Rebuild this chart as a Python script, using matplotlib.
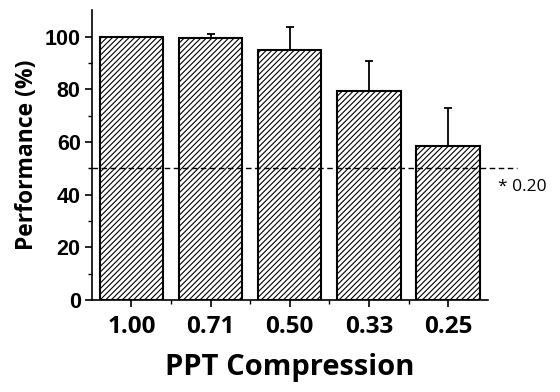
import matplotlib.pyplot as plt
import numpy as np

# data
labels = ["1.00", "0.71", "0.50", "0.33", "0.25"]
performance = [100.0, 99.5, 95.0, 79.3, 58.6]
errors = [0.0, 1.5, 8.8, 11.3, 14.2]
chance = 50

plt.rcParams['hatch.linewidth'] = 0.8

fig = plt.figure(figsize=(5.6, 3.92), dpi=100)
ax = fig.add_axes([0.164, 0.235, 0.707, 0.739])

x = np.arange(len(labels))
ax.bar(x, performance, width=0.8, color='white', edgecolor='black',
       linewidth=1.5, hatch='//////', zorder=2)
ax.errorbar(x, performance, yerr=[np.zeros(len(errors)), errors], fmt='none',
            ecolor='black', elinewidth=1.3, capsize=3, capthick=1.3, zorder=3)

# chance line runs past the plot area
ax.plot([-0.5, 4.87], [chance, chance], ls='--', color='black', lw=1,
        dashes=(4, 2.5), clip_on=False, zorder=4)
ax.text(4.63, 43, "* 0.20", fontsize=12.5, family='Open Sans',
        ha='left', va='center', clip_on=False)

ax.set_xlim(-0.5, 4.5)
ax.set_ylim(0, 110)
ax.set_yticks(range(0, 101, 20))
ax.set_yticks(range(0, 101, 10), minor=True)
ax.set_xticks(x)
ax.set_xticks(x[:-1] + 0.5, minor=True)
ax.set_xticklabels(labels, fontsize=17.5, fontweight='bold', family='Open Sans')
for t in ax.get_yticklabels():
    t.set_fontsize(15.5)
    t.set_fontweight('bold')
    t.set_family('Liberation Sans')

ax.spines['top'].set_visible(False)
ax.spines['right'].set_visible(False)
ax.spines['left'].set_linewidth(1.2)
ax.spines['bottom'].set_linewidth(1.2)
ax.tick_params(axis='both', which='major', length=5, width=1.2, direction='out')
ax.tick_params(axis='both', which='minor', length=3, width=1.0, direction='out')
ax.tick_params(axis='x', pad=6)
ax.tick_params(axis='y', pad=3)

ax.set_ylabel("Performance (%)", fontsize=16.5, fontweight='bold',
              family='Open Sans', labelpad=4)
ax.set_xlabel("PPT Compression", fontsize=21, fontweight='bold',
              family='Open Sans', labelpad=10)

fig.savefig("out.png", dpi=100)
